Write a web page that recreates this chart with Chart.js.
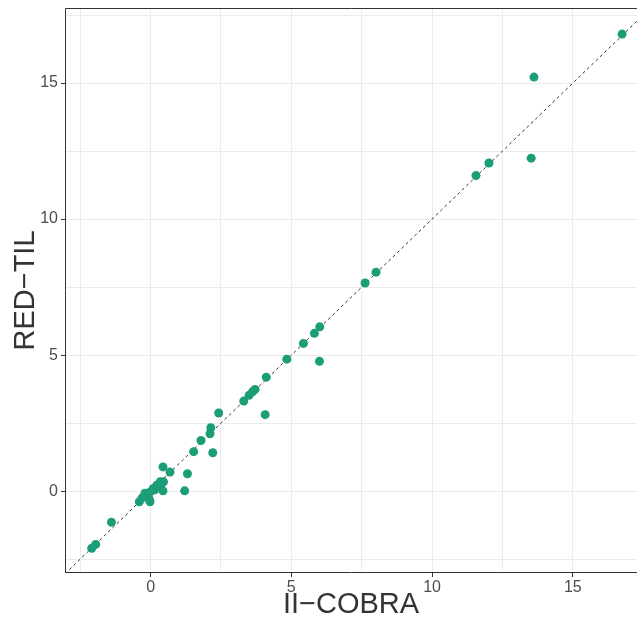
<!DOCTYPE html>
<html>
<head>
<meta charset="utf-8">
<script src="https://cdn.jsdelivr.net/npm/chart.js@4.4.0/dist/chart.umd.min.js"></script>
<style>
html,body{margin:0;padding:0;background:#fff;}
#wrap{width:637px;height:624px;}
</style>
</head>
<body>
<div id="wrap"><canvas id="c" width="637" height="624"></canvas></div>
<script>
const xTitle = "II\u2212COBRA";
const yTitle = "RED\u2212TIL";
const xValues = [16.75, 13.62, 13.52, 12.02, 11.56, 8.01, 7.62, 6.01, 5.82, 5.43, 4.84, 6.00, 4.11, 3.71, 3.62, 3.50, 3.31, 2.42, 4.07, 2.14, 2.11, 2.21, 1.79, 1.53, 1.31, 1.21, 0.69, 0.44, 0.44, 0.46, 0.34, 0.22, 0.10, 0.00, -0.08, -0.14, -0.20, -0.30, -0.02, -0.40, -1.39, -1.95, -2.09, 0.30, 0.40, 0.15, -0.05];
const yValues = [16.80, 15.22, 12.24, 12.06, 11.60, 8.05, 7.65, 6.04, 5.80, 5.43, 4.85, 4.77, 4.19, 3.74, 3.65, 3.52, 3.31, 2.87, 2.81, 2.33, 2.11, 1.41, 1.86, 1.45, 0.64, 0.01, 0.70, 0.89, 0.01, 0.34, 0.34, 0.22, 0.10, -0.02, -0.21, -0.15, -0.08, -0.25, -0.39, -0.39, -1.14, -1.96, -2.10, 0.20, 0.30, 0.05, -0.30];
const majorTicks = [0, 5, 10, 15];
const gridTicks = [-2.5, 0, 2.5, 5, 7.5, 10, 12.5, 15, 17.5];
const xRange = [-3.04, 17.28];
const yRange = [-3.01, 17.76];

const points = xValues.map((x, i) => ({x: x, y: yValues[i]}));
const diag = [{x: -3.04, y: -3.04}, {x: 17.76, y: 17.76}];

const isMajor = v => majorTicks.indexOf(v) >= 0;

const borderPlugin = {
  id: 'panelBorder',
  afterDatasetsDraw(chart) {
    const {ctx, chartArea: a} = chart;
    ctx.save();
    ctx.strokeStyle = '#333333';
    ctx.lineWidth = 1;
    ctx.beginPath();
    ctx.moveTo(a.right, a.top + 0.5);
    ctx.lineTo(a.left + 0.5, a.top + 0.5);
    ctx.lineTo(a.left + 0.5, a.bottom - 0.5);
    ctx.lineTo(a.right, a.bottom - 0.5);
    ctx.stroke();
    ctx.restore();
  }
};

function scaleOpts(range, title, isX) {
  return {
    type: 'linear',
    min: range[0],
    max: range[1],
    afterBuildTicks(scale) {
      scale.ticks = gridTicks.map(v => ({value: v}));
    },
    afterFit(scale) {
      if (isX) scale.height = 51; else scale.width = 65;
      scale.paddingLeft = 0;
      scale.paddingRight = 0;
      scale.paddingTop = 0;
      scale.paddingBottom = 0;
    },
    border: {display: false},
    grid: {
      color: '#ebebeb',
      lineWidth: 1,
      drawTicks: true,
      tickLength: 4,
      tickColor: ctx => isMajor(ctx.tick.value) ? '#333333' : 'rgba(0,0,0,0)'
    },
    ticks: {
      autoSkip: false,
      maxRotation: 0,
      padding: isX ? 1 : 3,
      color: '#4d4d4d',
      font: {family: 'Liberation Sans, Arial, sans-serif', size: 16},
      callback: v => isMajor(v) ? String(v) : ''
    },
    title: {
      display: true,
      text: title,
      color: '#333333',
      font: {family: 'Liberation Sans, Arial, sans-serif', size: 29},
      padding: isX ? {top: 0, bottom: 2} : {top: 9, bottom: 0}
    }
  };
}

new Chart(document.getElementById('c'), {
  type: 'scatter',
  data: {
    datasets: [
      {
        type: 'line',
        data: diag,
        borderColor: '#333333',
        borderWidth: 1,
        borderDash: [3, 3],
        pointRadius: 0,
        fill: false,
        order: 2
      },
      {
        data: points,
        backgroundColor: '#1b9e77',
        borderWidth: 0,
        pointRadius: 4.5,
        pointHoverRadius: 4.5,
        order: 1
      }
    ]
  },
  options: {
    responsive: false,
    animation: false,
    clip: true,
    layout: {autoPadding: false, padding: {top: 8, right: 0, left: 0, bottom: 0}},
    plugins: {legend: {display: false}, tooltip: {enabled: false}},
    scales: {
      x: scaleOpts(xRange, xTitle, true),
      y: scaleOpts(yRange, yTitle, false)
    }
  },
  plugins: [borderPlugin]
});
</script>
</body>
</html>
